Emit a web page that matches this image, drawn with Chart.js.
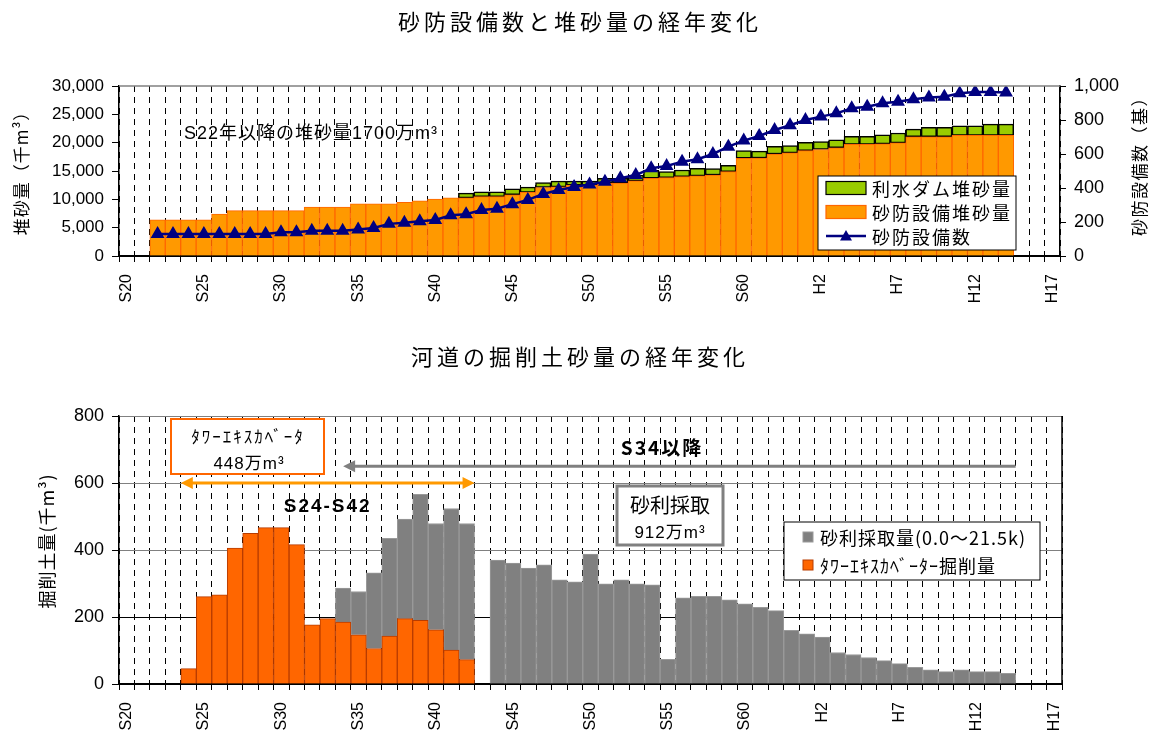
<!DOCTYPE html>
<html><head><meta charset="utf-8">
<script src="https://cdn.jsdelivr.net/npm/chart.js@4.4.0/dist/chart.umd.min.js"></script>
<style>
html,body{margin:0;padding:0;background:#fff;}
#wrap{position:relative;width:1155px;height:738px;overflow:hidden;background:#fff}
canvas{position:absolute;left:0}
#c1{top:0}
#c2{top:335px}
</style></head><body>
<div id="wrap">
<canvas id="c1" width="1155" height="335"></canvas>
<canvas id="c2" width="1155" height="403"></canvas>
</div>
<script>
// ---- categories (S20 = 1945 ... H17 = 2005) ----
const categories = ['S20','S21','S22','S23','S24','S25','S26','S27','S28','S29','S30','S31','S32','S33','S34','S35','S36','S37','S38','S39','S40','S41','S42','S43','S44','S45','S46','S47','S48','S49','S50','S51','S52','S53','S54','S55','S56','S57','S58','S59','S60','S61','S62','S63','H1','H2','H3','H4','H5','H6','H7','H8','H9','H10','H11','H12','H13','H14','H15','H16','H17'];
const tickLabels = ['S20','S25','S30','S35','S40','S45','S50','S55','S60','H2','H7','H12','H17'];

// ---- top chart: sediment (千m3) and number of facilities ----
const sabouSediment = [null,null,6400,6400,6400,6400,7400,8000,8000,8000,8000,8000,8650,8650,8650,9200,9200,9200,9450,9750,10050,10250,
  10250,10470,10470,10810,11220,12090,12210,12500,12500,12850,12850,13260,13720,13840,14010,14130,14300,14880,
  17250,17300,18000,18200,
  18600,18800,19100,19700,19700,19800,19950,21050,21050,21050,21300,21300,21300,21300,null,null,null];
const damSediment = [null,null,null,null,null,null,null,null,null,null,null,null,null,null,null,null,null,null,null,null,null,null,
  850,870,870,1050,930,880,990,700,700,870,870,1040,1380,1060,1170,1340,1110,1110,
  1350,1200,1360,1300,
  1460,1400,1400,1400,1400,1600,1750,1350,1650,1650,1660,1660,1960,1960,null,null,null];
const facilityCount = [null,null,130,130,130,130,130,130,130,130,
  140,140,148,148,148,156,165,189,195,204,212,240,
  246,270,278,305,330,365,388,406,421,437,457,476,516,529,555,569,600,643,
  679,706,741,769,
  800,820,839,869,878,898,908,922,933,937,957,964,964,962,null,null,null];

// ---- bottom chart: excavated volume (千m3) ----
const towerExcavation = [null,null,null,null,46,261,266,406,450,467,467,416,177,195,185,147,106,143,195,190,162,101,73,
  null,null,null,null,null,null,null,null,null,null,null,null,null,null,null,null,null,null,null,null,null,null,null,null,null,null,null,null,null,null,null,null,null,null,null,null,null,null];
const gravelMining = [null,null,null,null,null,null,null,null,null,null,null,null,null,null,
  101,129,226,292,297,376,317,423,406,
  null,
  370,361,346,356,311,305,388,299,311,299,296,74,257,262,262,251,239,229,219,160,
  150,140,94,88,79,70,61,50,42,37,42,37,37,32,null,null,null];

const FONT = "'Liberation Sans','Noto Sans CJK JP',sans-serif";
const JFONT = "'Noto Sans CJK JP','Liberation Sans',sans-serif";
Chart.defaults.font.family = FONT;
Chart.defaults.color = '#000';

function txt(ctx, s, x, y, font, o) {
  o = o || {};
  ctx.save();
  ctx.font = font;
  ctx.fillStyle = o.color || '#000';
  ctx.textAlign = o.align || 'center';
  ctx.textBaseline = 'middle';
  if ('letterSpacing' in ctx) ctx.letterSpacing = (o.ls || 0) + 'px';
  if (o.rot) { ctx.translate(x, y); ctx.rotate(o.rot); ctx.fillText(s, 0, 0); }
  else ctx.fillText(s, x, y);
  ctx.restore();
}
function arrow(ctx, x1, x2, y, color, w, both) {
  const h = 12, hw = 6;
  ctx.save();
  ctx.strokeStyle = color; ctx.fillStyle = color; ctx.lineWidth = w;
  ctx.beginPath(); ctx.moveTo(x1 + h - 2, y); ctx.lineTo(both ? x2 - h + 2 : x2, y); ctx.stroke();
  ctx.beginPath(); ctx.moveTo(x1, y); ctx.lineTo(x1 + h, y - hw); ctx.lineTo(x1 + h, y + hw); ctx.closePath(); ctx.fill();
  if (both) { ctx.beginPath(); ctx.moveTo(x2, y); ctx.lineTo(x2 - h, y - hw); ctx.lineTo(x2 - h, y + hw); ctx.closePath(); ctx.fill(); }
  ctx.restore();
}
function box(ctx, x, y, w, h, stroke, lw) {
  ctx.save();
  ctx.fillStyle = '#fff'; ctx.fillRect(x, y, w, h);
  ctx.strokeStyle = stroke; ctx.lineWidth = lw; ctx.strokeRect(x, y, w, h);
  ctx.restore();
}

function xOpts(h) {
  return {
    type: 'category', stacked: true, offset: true,
    grid: { offset: true, color: '#000', lineWidth: 1, drawTicks: true, tickLength: 6, tickColor: '#000', tickBorderDash: [], tickWidth: 1 },
    border: { display: true, color: '#000', width: 2, dash: [6, 5] },
    ticks: { autoSkip: false, minRotation: 90, maxRotation: 90, padding: 12, font: { size: 16 },
      callback: function (v, i) { const l = categories[i]; return tickLabels.includes(l) ? l : ''; } },
    afterFit: s => { s.height = h; }
  };
}
const fmt = v => Number(v).toLocaleString('en-US');

// ---------------- chart 1 ----------------
const deco1 = {
  id: 'deco1',
  afterDraw(chart) {
    const ctx = chart.ctx, a = chart.chartArea;
    // top frame
    ctx.save(); ctx.strokeStyle = '#808080'; ctx.lineWidth = 1.5;
    ctx.beginPath(); ctx.moveTo(a.left, a.top); ctx.lineTo(a.right, a.top); ctx.stroke(); ctx.restore();
    txt(ctx, '砂防設備数と堆砂量の経年変化', 580, 22, '22px ' + JFONT, { ls: 4 });
    txt(ctx, 'S22年以降の堆砂量1700万m³', 184, 134, '18px ' + FONT, { align: 'left', ls: 1 });
    txt(ctx, '堆砂量（千m³）', 22, 169, '17px ' + JFONT, { rot: -Math.PI / 2, ls: 1 });
    txt(ctx, '砂防設備数（基）', 1140, 162, '17px ' + JFONT, { rot: -Math.PI / 2, ls: 1.5 });
    // legend
    const ds = chart.data.datasets;
    box(ctx, 818, 176, 198, 74, '#000', 1);
    const order = [2, 1, 0], ys = [188, 212, 236];
    order.forEach((di, k) => {
      const d = ds[di], y = ys[k];
      ctx.save();
      if (d.type === 'line') {
        ctx.strokeStyle = d.borderColor; ctx.lineWidth = d.borderWidth;
        ctx.beginPath(); ctx.moveTo(826, y); ctx.lineTo(866, y); ctx.stroke();
        ctx.fillStyle = d.pointBackgroundColor;
        ctx.beginPath(); ctx.moveTo(846, y - 6); ctx.lineTo(852, y + 4.5); ctx.lineTo(840, y + 4.5); ctx.closePath(); ctx.fill();
      } else {
        ctx.fillStyle = d.backgroundColor; ctx.fillRect(826, y - 6.5, 40, 13);
        ctx.strokeStyle = d.borderColor; ctx.lineWidth = 1.2; ctx.strokeRect(826, y - 6.5, 40, 13);
      }
      ctx.restore();
      txt(ctx, d.label, 872, y + 1, '18px ' + JFONT, { align: 'left', ls: 2 });
    });
  }
};

new Chart(document.getElementById('c1'), {
  data: {
    labels: categories,
    datasets: [
      { type: 'line', label: '砂防設備数', data: facilityCount, yAxisID: 'y1', order: 0,
        borderColor: '#000080', borderWidth: 2.5, pointStyle: 'triangle', pointRadius: 5.5,
        pointBackgroundColor: '#000080', pointBorderColor: '#000080', tension: 0, spanGaps: false },
      { type: 'bar', label: '砂防設備堆砂量', data: sabouSediment, yAxisID: 'y', order: 1,
        backgroundColor: '#FF9900', borderColor: '#FF6600', borderWidth: 1, borderSkipped: 'start',
        categoryPercentage: 1, barPercentage: 1 },
      { type: 'bar', label: '利水ダム堆砂量', data: damSediment, yAxisID: 'y', order: 1,
        backgroundColor: '#99CC00', borderColor: '#000000', borderWidth: 1.5, borderSkipped: false,
        categoryPercentage: 1, barPercentage: 1 }
    ]
  },
  options: {
    responsive: false, animation: false, devicePixelRatio: 1,
    layout: { padding: { top: 86, left: 0, right: 0, bottom: 0 } },
    plugins: { legend: { display: false }, tooltip: { enabled: false }, title: { display: false } },
    scales: {
      x: xOpts(79),
      y: { position: 'left', stacked: true, min: 0, max: 30000,
        ticks: { stepSize: 5000, font: { size: 17 }, padding: 8, callback: fmt },
        grid: { drawOnChartArea: false, drawTicks: true, tickLength: 7, tickColor: '#000' },
        border: { color: '#000', width: 1.5 },
        afterFit: s => { s.width = 119; } },
      y1: { position: 'right', stacked: false, min: 0, max: 1000,
        ticks: { stepSize: 200, font: { size: 18 }, padding: 8, callback: fmt },
        grid: { drawOnChartArea: false, drawTicks: true, tickLength: 6, tickColor: '#000' },
        border: { color: '#000', width: 1.5 },
        afterFit: s => { s.width = 95; } }
    }
  },
  plugins: [deco1]
});

// ---------------- chart 2 ----------------
const deco2 = {
  id: 'deco2',
  afterDraw(chart) {
    const ctx = chart.ctx, a = chart.chartArea, xs = chart.scales.x, ys = chart.scales.y;
    const half = (xs.getPixelForValue(1) - xs.getPixelForValue(0)) / 2;
    // right frame
    ctx.save(); ctx.strokeStyle = '#000'; ctx.lineWidth = 1.5;
    ctx.beginPath(); ctx.moveTo(a.right, a.top); ctx.lineTo(a.right, a.bottom); ctx.stroke(); ctx.restore();
    txt(ctx, '河道の掘削土砂量の経年変化', 580, 22, '22px ' + JFONT, { ls: 4 });
    txt(ctx, '掘削土量(千m³)', 47, 206, '18px ' + JFONT, { rot: -Math.PI / 2, ls: 1 });
    // tower excavator box & arrow
    box(ctx, 171, 84, 153, 55, '#FF6600', 2);
    txt(ctx, 'ﾀﾜｰｴｷｽｶﾍﾞｰﾀ', 248, 102, '17px ' + JFONT, { ls: 2 });
    txt(ctx, '448万m³', 249, 129, '17px ' + FONT, { ls: 1 });
    const i24 = categories.indexOf('S24'), i42 = categories.indexOf('S42');
    const ox1 = xs.getPixelForValue(i24) - half, ox2 = xs.getPixelForValue(i42) + half;
    arrow(ctx, ox1, ox2, ys.getPixelForValue(600), '#FF9900', 3, true);
    txt(ctx, 'S24-S42', (ox1 + ox2) / 2, ys.getPixelForValue(528), 'bold 19px ' + FONT, { ls: 2 });
    // gravel arrow
    const i34 = categories.indexOf('S34'), i14 = categories.indexOf('H14');
    arrow(ctx, xs.getPixelForValue(i34), xs.getPixelForValue(i14) + half, ys.getPixelForValue(650), '#808080', 3, false);
    txt(ctx, 'S34以降', 662, 113, 'bold 19px ' + JFONT, { ls: 2 });
    box(ctx, 617, 151, 106, 59, '#808080', 3);
    txt(ctx, '砂利採取', 670, 170, '20px ' + JFONT, { ls: 0 });
    txt(ctx, '912万m³', 670, 198, '17px ' + FONT, { ls: 1 });
    // legend
    const ds = chart.data.datasets;
    box(ctx, 784, 187, 256, 58, '#000', 1);
    [[1, 202], [0, 230]].forEach(([di, y]) => {
      const d = ds[di];
      ctx.save();
      ctx.fillStyle = d.backgroundColor; ctx.fillRect(803, y - 5, 10, 10);
      ctx.strokeStyle = d.borderColor; ctx.lineWidth = 1; ctx.strokeRect(803, y - 5, 10, 10);
      ctx.restore();
      txt(ctx, d.label, 820, y + 1, '18px ' + JFONT, { align: 'left', ls: 1 });
    });
  }
};

new Chart(document.getElementById('c2'), {
  type: 'bar',
  data: {
    labels: categories,
    datasets: [
      { label: 'ﾀﾜｰｴｷｽｶﾍﾞｰﾀｰ掘削量', data: towerExcavation,
        backgroundColor: '#FF6600', borderColor: '#B83C00', borderWidth: 1, borderSkipped: 'start',
        categoryPercentage: 1, barPercentage: 1 },
      { label: '砂利採取量(0.0～21.5k)', data: gravelMining,
        backgroundColor: '#808080', borderColor: '#9A9A9A', borderWidth: 1, borderSkipped: 'start',
        categoryPercentage: 1, barPercentage: 1 }
    ]
  },
  options: {
    responsive: false, animation: false, devicePixelRatio: 1,
    layout: { padding: { top: 81, left: 0, right: 93, bottom: 0 } },
    plugins: { legend: { display: false }, tooltip: { enabled: false }, title: { display: false } },
    scales: {
      x: xOpts(54),
      y: { position: 'left', stacked: true, min: 0, max: 800,
        ticks: { stepSize: 200, font: { size: 18 }, padding: 8 },
        grid: { drawOnChartArea: true, drawTicks: true, tickLength: 7, tickColor: '#000',
          color: c => (c.tick && (c.tick.value === 200 || c.tick.value === 0)) ? '#000' : '#808080', lineWidth: 1 },
        border: { color: '#000', width: 1.5 },
        afterFit: s => { s.width = 119; } }
    }
  },
  plugins: [deco2]
});
</script>
</body></html>
